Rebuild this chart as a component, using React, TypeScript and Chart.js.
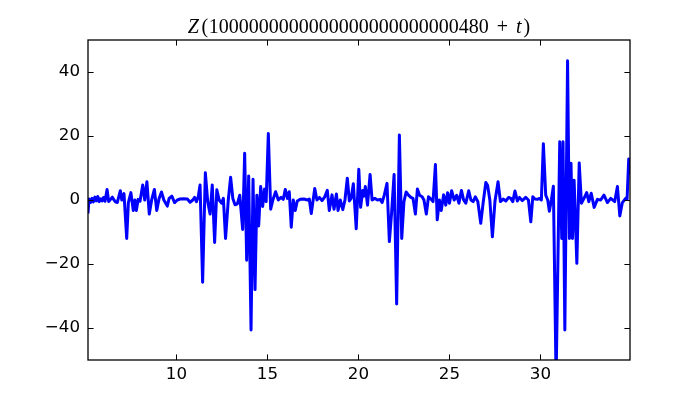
import React, { useEffect, useRef } from "react";
import { Chart, registerables } from "chart.js";

Chart.register(...registerables);

const xValues = [
  5.14, 5.2, 5.28, 5.36, 5.44, 5.52, 5.6, 5.68, 5.76, 5.84, 5.92, 6.0, 6.08, 6.19, 6.28, 6.38, 6.48, 6.56, 6.65, 6.75,
  6.92, 7.0, 7.12, 7.27, 7.36, 7.5, 7.63, 7.72, 7.8, 7.9, 8.0, 8.15, 8.26, 8.38, 8.51, 8.64, 8.79, 8.92, 9.05, 9.18,
  9.31, 9.5, 9.6, 9.75, 9.9, 10.05, 10.2, 10.4, 10.6, 10.75, 10.9, 11.0, 11.1, 11.2, 11.3, 11.44, 11.59, 11.72, 11.85, 11.97,
  12.1, 12.22, 12.35, 12.48, 12.58, 12.7, 12.85, 12.98, 13.1, 13.22, 13.35, 13.48, 13.64, 13.75, 13.86, 13.97, 14.1, 14.21, 14.32, 14.42,
  14.52, 14.63, 14.74, 14.84, 14.93, 15.05, 15.18, 15.3, 15.45, 15.6, 15.75, 15.87, 15.98, 16.1, 16.2, 16.31, 16.42, 16.53, 16.64, 16.8,
  17.0, 17.2, 17.3, 17.41, 17.6, 17.72, 17.86, 18.0, 18.15, 18.29, 18.4, 18.55, 18.66, 18.79, 18.88, 19.0, 19.14, 19.26, 19.39, 19.5,
  19.6, 19.72, 19.88, 20.02, 20.12, 20.24, 20.31, 20.38, 20.5, 20.64, 20.75, 20.9, 21.05, 21.2, 21.3, 21.42, 21.57, 21.7, 21.82, 21.96,
  22.1, 22.25, 22.38, 22.5, 22.62, 22.75, 22.88, 23.0, 23.13, 23.24, 23.36, 23.5, 23.6, 23.73, 23.85, 24.0, 24.1, 24.23, 24.33, 24.45,
  24.55, 24.68, 24.8, 24.9, 25.0, 25.12, 25.26, 25.4, 25.52, 25.66, 25.78, 25.9, 26.06, 26.18, 26.3, 26.42, 26.56, 26.72, 26.86, 27.0,
  27.1, 27.22, 27.36, 27.5, 27.67, 27.8, 27.95, 28.1, 28.25, 28.37, 28.48, 28.6, 28.73, 28.85, 29.0, 29.19, 29.34, 29.47, 29.58, 29.7,
  29.83, 29.95, 30.05, 30.16, 30.29, 30.4, 30.49, 30.6, 30.71, 30.86, 31.06, 31.17, 31.24, 31.34, 31.49, 31.59, 31.68, 31.76, 31.85, 32.0,
  32.13, 32.25, 32.4, 32.54, 32.66, 32.79, 32.95, 33.13, 33.31, 33.49, 33.68, 33.86, 34.08, 34.23, 34.36, 34.5, 34.68, 34.76, 34.85, 34.92,
];

const yValues = [
  -4.2, 0.3, -0.8, 0.5, -0.6, 0.9, -0.3, 1.1, -0.5, 0.4, -0.3, 0.8, -0.4, 3.3, -0.5, 0.2, 0.9, 0.1, -0.6, -0.8,
  2.9, 0.0, 2.0, -12.0, -0.8, 2.3, -3.3, 0.0, -3.3, 0.2, -0.4, 4.7, 0.0, 5.7, -4.4, 0.0, 3.3, -3.3, 0.5, 2.5,
  0.0, -1.9, 0.5, 1.2, -0.8, 0.0, 0.3, 0.4, 0.3, -0.7, 0.0, 0.8, -0.5, 1.0, 4.7, -25.7, 8.5, -0.5, -4.4, 4.7,
  -13.3, 3.2, 0.0, -1.0, 0.5, -12.0, 0.0, 7.1, 0.5, -1.5, -1.2, 1.5, -9.2, 14.6, -18.8, 7.5, -40.6, 6.5, -28.0, 1.5,
  -8.1, 4.2, -2.0, 3.4, -0.5, 20.8, -2.9, 0.0, 2.6, 0.0, 0.8, 0.2, 3.3, 0.5, 2.6, -8.5, 0.0, -3.3, -0.3, 0.2,
  0.3, 0.0, 0.3, -4.2, 3.6, 0.0, 0.8, -0.2, 1.0, 3.0, -3.3, 1.6, -2.9, 1.9, -3.3, 0.0, -3.0, 0.0, 6.8, -0.3,
  0.5, 5.1, -9.0, 9.6, -2.3, 3.0, 1.2, 4.2, -1.6, 8.0, 0.0, 0.5, 0.0, 0.2, -0.8, 1.5, 5.2, -13.0, -4.2, 8.0,
  -32.5, 20.3, -12.0, -0.5, 2.5, 1.5, 0.8, 0.5, -4.4, 3.4, 1.5, 1.0, 0.0, -4.4, 1.0, 0.2, -0.5, 11.1, -6.2, 0.0,
  -3.3, 1.6, -1.6, 2.3, -1.0, 2.9, 0.0, 1.5, -1.0, 3.0, 0.0, -1.0, 2.9, 0.0, -0.5, 1.0, -0.5, -7.3, -0.5, 5.5,
  4.5, 0.0, -11.5, -0.5, 5.7, -0.5, 0.3, -0.3, 0.8, 0.5, -0.5, 2.8, -0.3, 0.8, -0.2, 0.8, 0.0, -6.8, 1.0, 0.3,
  0.2, 0.5, 0.0, 17.6, 1.5, 0.0, -3.5, 0.0, 4.3, -56.0, 18.2, -12.0, 18.2, -40.6, 43.5, -12.0, 11.5, -12.0, 6.2, -19.8,
  11.6, -1.0, 0.6, 2.3, -0.5, 2.1, -2.3, 0.2, 0.0, 1.5, -0.8, 0.5, -0.5, 4.2, -5.0, -0.8, 0.5, 0.3, 12.8, 8.0,
];

const xTicks = [10, 15, 20, 25, 30];
const yTicks = [-40, -20, 0, 20, 40];
const xMin = 5.143;
const xMax = 34.92;
const yMin = -50;
const yMax = 50;

// title pieces: text, italic, extra gap after (px)
const titleParts = [
  { text: "Z", italic: true, gap: 2.5 },
  { text: "(", italic: false, gap: 0.5 },
  { text: "1000000000000000000000000480", italic: false, gap: 8 },
  { text: "+", italic: false, gap: 8 },
  { text: "t", italic: true, gap: 2 },
  { text: ")", italic: false, gap: 0 },
];

const fmt = (v: number | string) => {
  const n = Number(v);
  return n < 0 ? "\u2212" + Math.abs(n) : String(n);
};

export default function App() {
  const ref = useRef<HTMLCanvasElement>(null);

  useEffect(() => {
    const canvas = ref.current;
    if (!canvas) return;

    const framePlugin = {
      id: "framePlugin",
      afterDatasetsDraw(chart: any) {
        const { ctx, chartArea: a, scales } = chart;
        ctx.save();
        ctx.strokeStyle = "#000";
        ctx.lineWidth = 1;
        const tl = 5.6;
        ctx.beginPath();
        xTicks.forEach((v) => {
          const x = Math.round(scales.x.getPixelForValue(v)) + 0.5;
          ctx.moveTo(x, a.bottom);
          ctx.lineTo(x, a.bottom - tl);
          ctx.moveTo(x, a.top);
          ctx.lineTo(x, a.top + tl);
        });
        yTicks.forEach((v) => {
          const y = Math.round(scales.y.getPixelForValue(v)) + 0.5;
          ctx.moveTo(a.left, y);
          ctx.lineTo(a.left + tl, y);
          ctx.moveTo(a.right, y);
          ctx.lineTo(a.right - tl, y);
        });
        ctx.stroke();
        ctx.lineWidth = 1.3;
        ctx.strokeRect(a.left, a.top, a.right - a.left, a.bottom - a.top);

        // title
        const size = 20;
        const fontN = `${size}px "Liberation Serif"`;
        const fontI = `italic ${size}px "Liberation Serif"`;
        let total = 0;
        const widths = titleParts.map((p) => {
          ctx.font = p.italic ? fontI : fontN;
          const w = ctx.measureText(p.text).width + p.gap;
          total += w;
          return w;
        });
        let x = (a.left + a.right) / 2 - total / 2;
        ctx.fillStyle = "#000";
        ctx.textBaseline = "alphabetic";
        ctx.textAlign = "left";
        titleParts.forEach((p, i) => {
          ctx.font = p.italic ? fontI : fontN;
          ctx.fillText(p.text, x, 33);
          x += widths[i];
        });
        ctx.restore();
      },
    };

    const tickFont = { family: "DejaVu Sans", size: 16.7 };

    const chart = new Chart(canvas, {
      type: "line",
      data: {
        datasets: [
          {
            data: xValues.map((x, i) => ({ x, y: yValues[i] })),
            borderColor: "#0000ff",
            borderWidth: 3,
            pointRadius: 0,
            tension: 0,
            fill: false,
            borderJoinStyle: "round",
            clip: 0,
          } as any,
        ],
      },
      options: {
        responsive: false,
        animation: false,
        events: [],
        layout: { padding: { left: 0, right: 70, top: 40, bottom: 0 } },
        plugins: {
          legend: { display: false },
          tooltip: { enabled: false },
          title: { display: false },
        },
        scales: {
          x: {
            type: "linear",
            min: xMin,
            max: xMax,
            grid: { display: false, drawTicks: false },
            border: { display: false },
            afterBuildTicks: (s: any) => {
              s.ticks = xTicks.map((v) => ({ value: v }));
            },
            afterFit: (s: any) => {
              s.height = 40;
            },
            ticks: {
              padding: 5,
              color: "#000",
              font: tickFont,
              maxRotation: 0,
              autoSkip: false,
              callback: fmt,
            },
          },
          y: {
            type: "linear",
            min: yMin,
            max: yMax,
            grid: { display: false, drawTicks: false },
            border: { display: false },
            afterBuildTicks: (s: any) => {
              s.ticks = yTicks.map((v) => ({ value: v }));
            },
            afterFit: (s: any) => {
              s.width = 88;
            },
            ticks: {
              padding: 8,
              color: "#000",
              font: tickFont,
              autoSkip: false,
              callback: fmt,
            },
          },
        },
      } as any,
      plugins: [framePlugin],
    });

    return () => chart.destroy();
  }, []);

  return (
    <div style={{ position: "fixed", left: 0, top: 0, width: 700, height: 400, background: "#fff" }}>
      <canvas ref={ref} width={700} height={400} style={{ display: "block" }} />
    </div>
  );
}
